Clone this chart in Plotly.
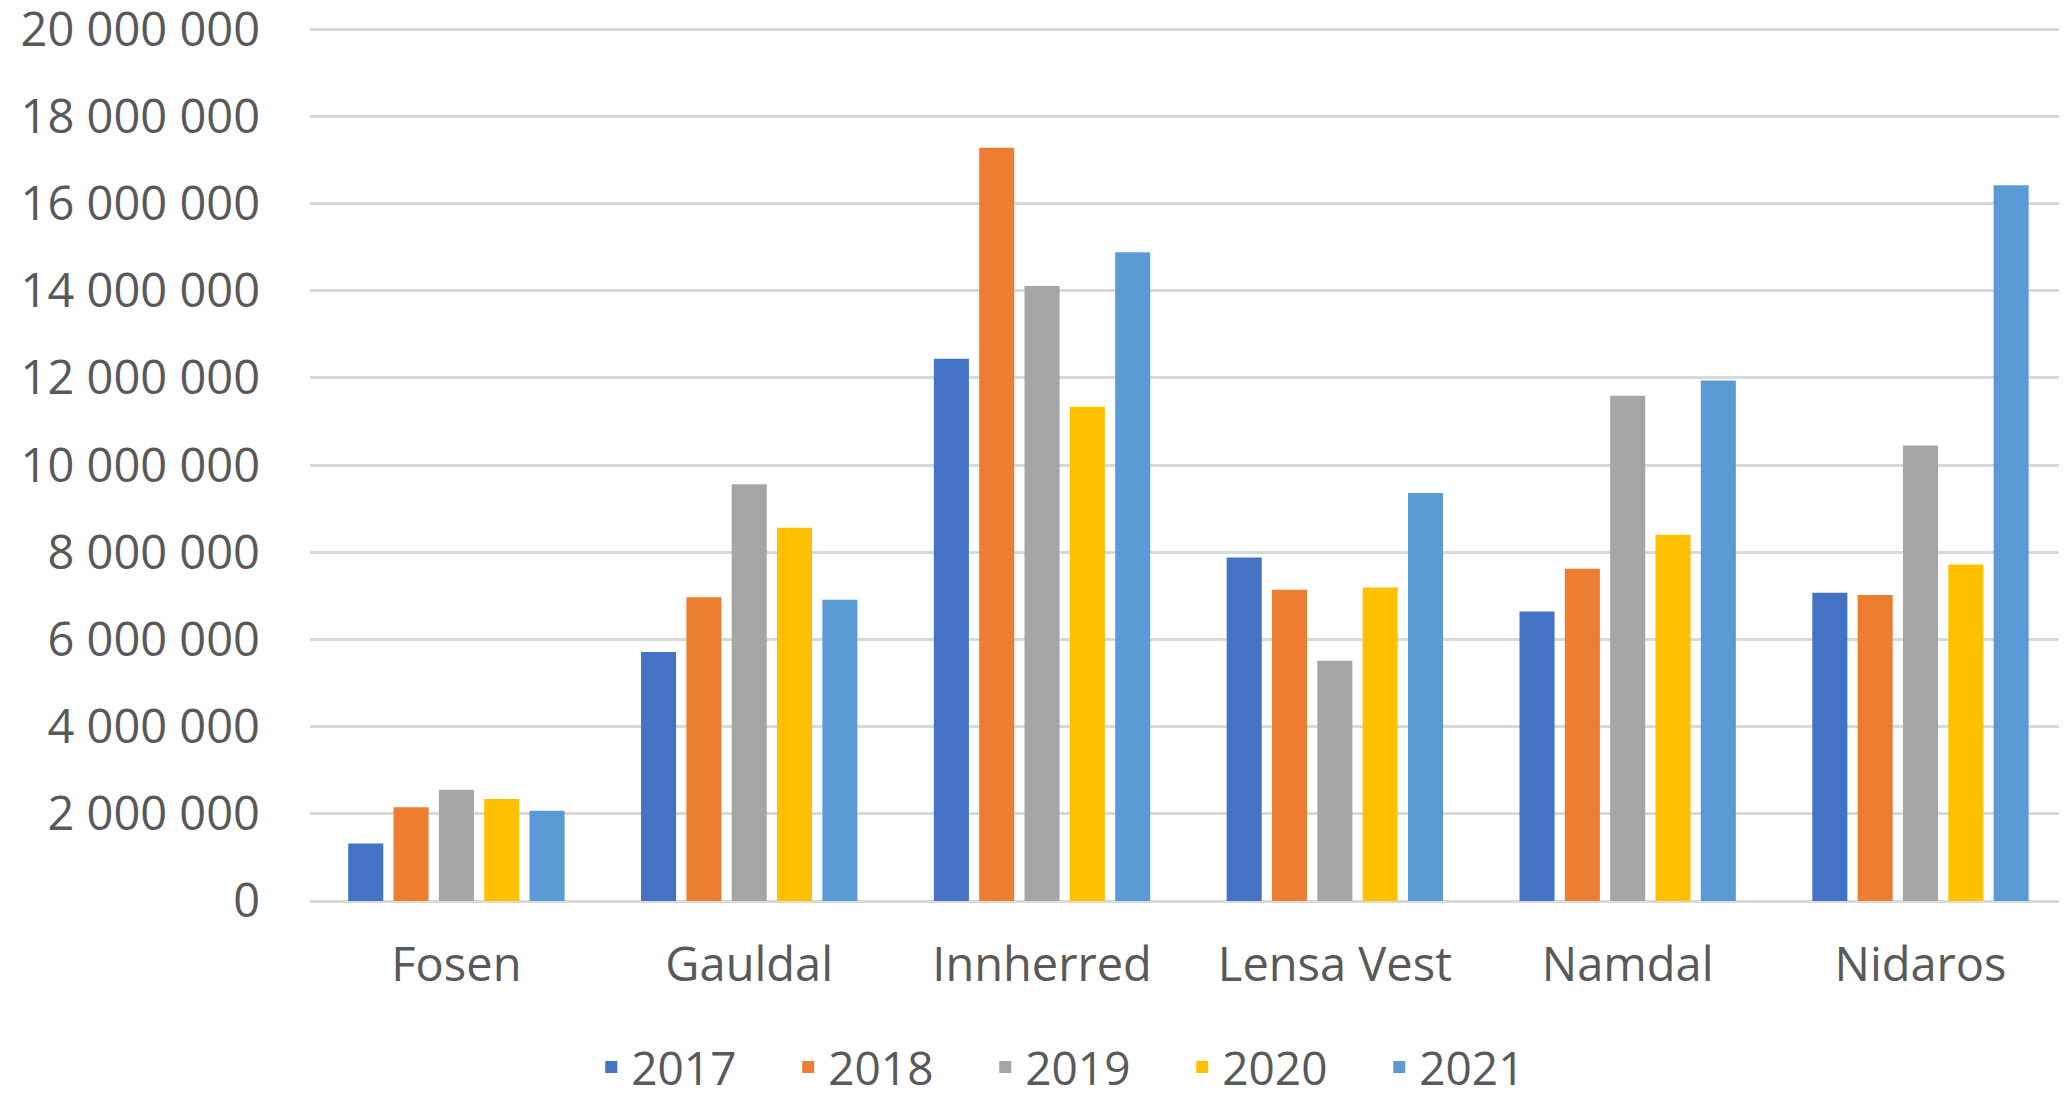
import plotly.graph_objects as go

categories = ["Fosen", "Gauldal", "Innherred", "Lensa Vest", "Namdal", "Nidaros"]
years = ["2017", "2018", "2019", "2020", "2021"]
v2017 = [1320000, 5710000, 12440000, 7880000, 6640000, 7070000]
v2018 = [2150000, 6970000, 17280000, 7140000, 7620000, 7020000]
v2019 = [2550000, 9560000, 14110000, 5510000, 11590000, 10450000]
v2020 = [2340000, 8560000, 11340000, 7190000, 8400000, 7720000]
v2021 = [2070000, 6910000, 14880000, 9360000, 11940000, 16420000]
series = [v2017, v2018, v2019, v2020, v2021]
colors = ["#4472C4", "#ED7D31", "#A5A5A5", "#FFC000", "#5B9BD5"]

fig = go.Figure()
for name, vals, col in zip(years, series, colors):
    fig.add_trace(go.Bar(x=categories, y=vals, name=name,
                         marker=dict(color=col, line=dict(width=0))))

font_family = "Open Sans"
fig.update_layout(
    width=2051, height=1077,
    margin=dict(l=302, r=0, t=19, b=184, autoexpand=False),
    paper_bgcolor="white", plot_bgcolor="white",
    barmode="group", bargap=0.226, bargroupgap=0.227,
    separators=", ",
    font=dict(family=font_family, color="#595959", size=46),
    showlegend=True,
    legend=dict(orientation="h", x=0.4424, xanchor="center", y=-0.190, yanchor="middle",
                font=dict(size=46, color="#595959", family=font_family),
                entrywidth=152, entrywidthmode="pixels", itemwidth=30,
                traceorder="normal"),
    xaxis=dict(range=[-0.5, 5.473], showgrid=False, showline=False, ticks="",
               ticklabelstandoff=32, tickfont=dict(size=47, color="#595959")),
    yaxis=dict(range=[0, 20050000], dtick=2000000, tick0=0, tickformat=",d",
               showgrid=True, gridcolor="#d9d9d9", gridwidth=3,
               zeroline=True, zerolinecolor="#d9d9d9", zerolinewidth=3,
               showline=False, ticks="", ticklabelstandoff=49,
               ticklabeloverflow="allow",
               tickfont=dict(size=47, color="#595959")),
)

fig.write_html("out.html")
